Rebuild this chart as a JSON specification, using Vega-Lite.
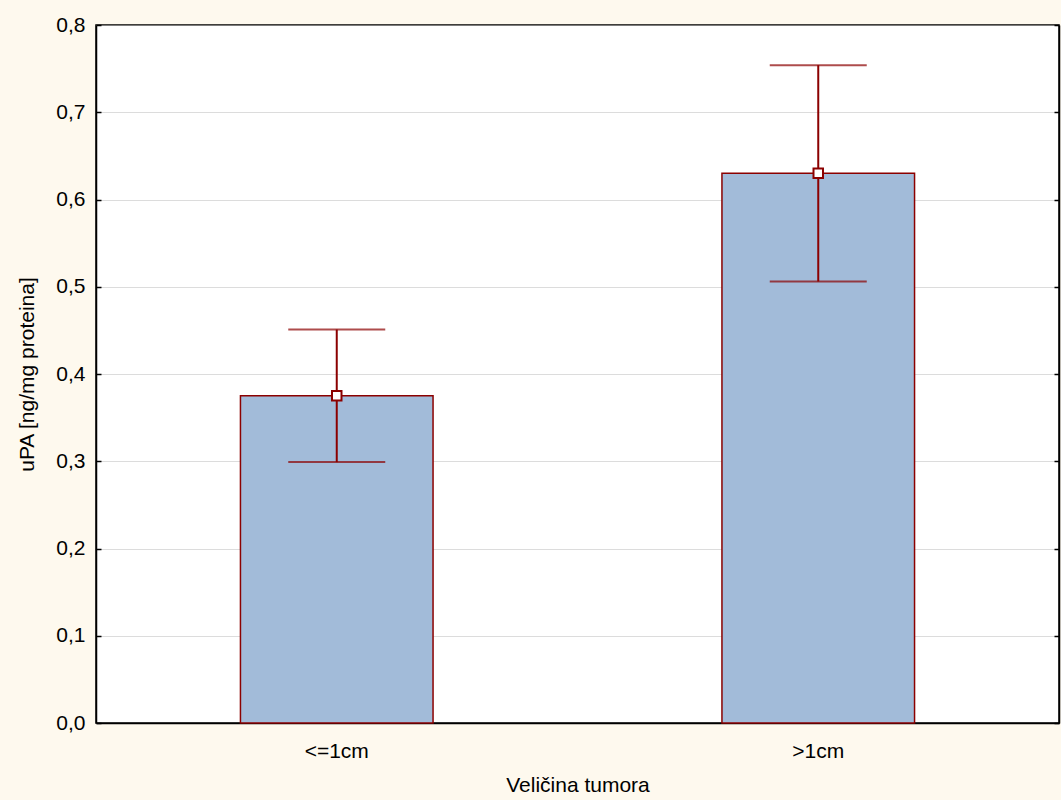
{
  "$schema": "https://vega.github.io/schema/vega-lite/v6.json",
  "width": 963,
  "height": 698,
  "autosize": {"type": "none"},
  "padding": {"left": 96, "top": 25, "right": 2, "bottom": 77},
  "background": "#FEF9EE",
  "config": {
    "view": {"fill": "#FFFFFF", "stroke": "#000000", "strokeWidth": 1.5},
    "font": "Liberation Sans",
    "axis": {
      "labelFont": "Liberation Sans",
      "titleFont": "Liberation Sans",
      "labelFontSize": 21,
      "titleFontSize": 21,
      "labelColor": "#000000",
      "titleColor": "#000000",
      "titleFontWeight": "normal",
      "domainColor": "#000000",
      "tickColor": "#000000"
    }
  },
  "data": {
    "values": [
      {"size": "<=1cm", "mean": 0.375, "lo": 0.299, "hi": 0.451},
      {"size": ">1cm", "mean": 0.630, "lo": 0.506, "hi": 0.754}
    ]
  },
  "encoding": {
    "x": {
      "field": "size",
      "type": "nominal",
      "sort": null,
      "scale": {"paddingInner": 0.6, "paddingOuter": 0.3},
      "axis": {
        "title": "Veličina tumora",
        "labelAngle": 0,
        "tickSize": -5,
        "tickWidth": 1.5,
        "domainWidth": 1.5,
        "labelPadding": 22,
        "titlePadding": 13
      }
    }
  },
  "layer": [
    {
      "mark": {"type": "bar", "fill": "#A2BBD9", "stroke": "#8B0000", "strokeWidth": 1.5},
      "encoding": {
        "y": {
          "field": "mean",
          "type": "quantitative",
          "scale": {"domain": [0, 0.8], "nice": false, "zero": true},
          "axis": {
            "orient": "left",
            "title": "uPA [ng/mg proteina]",
            "values": [0, 0.1, 0.2, 0.3, 0.4, 0.5, 0.6, 0.7, 0.8],
            "labelExpr": "replace(format(datum.value, '.1f'), '.', ',')",
            "tickSize": -5,
            "tickWidth": 1.5,
            "domainWidth": 1.5,
            "labelPadding": 16,
            "titlePadding": 18,
            "grid": true,
            "gridColor": "#B8B8B8",
            "gridDash": [1, 1],
            "gridWidth": 1
          }
        }
      }
    },
    {
      "mark": {"type": "rule", "color": "#8B0000", "strokeWidth": 2},
      "encoding": {
        "y": {
          "field": "lo",
          "type": "quantitative",
          "axis": {
            "orient": "right",
            "title": null,
            "labels": false,
            "values": [0, 0.1, 0.2, 0.3, 0.4, 0.5, 0.6, 0.7, 0.8],
            "tickSize": -5,
            "tickWidth": 1.5,
            "domainWidth": 1.5,
            "grid": false
          }
        },
        "y2": {"field": "hi"}
      }
    },
    {
      "mark": {"type": "tick", "color": "#8B0000", "thickness": 2, "size": 97, "orient": "horizontal"},
      "encoding": {"y": {"field": "lo", "type": "quantitative", "axis": null}}
    },
    {
      "mark": {"type": "tick", "color": "#8B0000", "thickness": 2, "size": 97, "orient": "horizontal"},
      "encoding": {"y": {"field": "hi", "type": "quantitative", "axis": null}}
    },
    {
      "mark": {"type": "point", "shape": "square", "size": 90, "filled": true, "fill": "#FFFFFF", "stroke": "#8B0000", "strokeWidth": 2, "opacity": 1},
      "encoding": {"y": {"field": "mean", "type": "quantitative", "axis": null}}
    }
  ],
  "resolve": {"axis": {"y": "independent"}}
}
